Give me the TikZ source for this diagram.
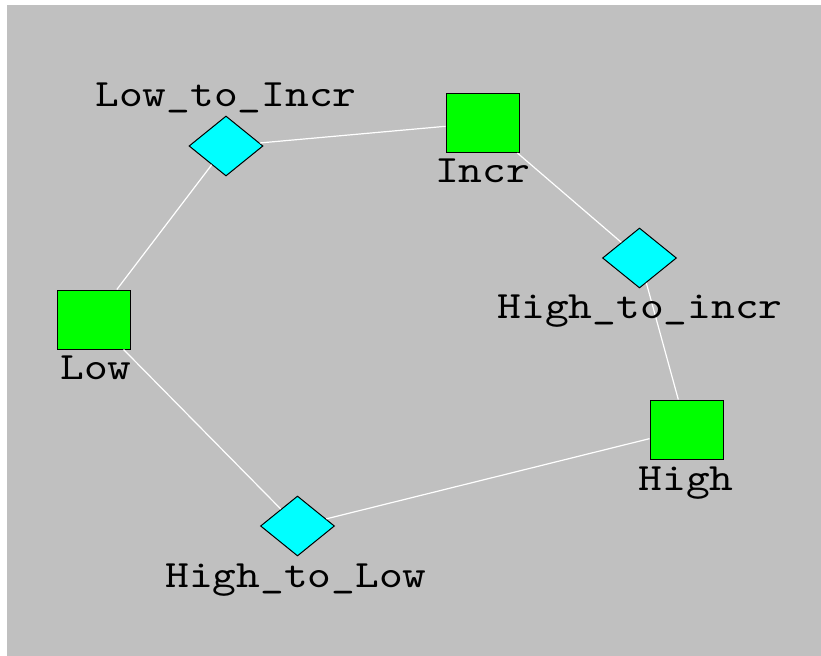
\documentclass[tikz,border=0pt]{standalone}
\usepackage{fontspec}
\newfontfamily\netfont{lmmono10-regular.otf}[FakeStretch=1.17]
\usetikzlibrary{shapes.geometric}

\tikzset{every picture/.style={line width=0.75pt}}
\tikzset{
	place/.style={draw=black, fill={rgb, 255:red, 0; green, 255; blue, 0 }, minimum width=54.75pt, minimum height=44.25pt, inner sep=0pt},
	trans/.style={diamond, draw=black, fill={rgb, 255:red, 0; green, 255; blue, 255 }, minimum width=55.5pt, minimum height=45pt, inner sep=0pt},
	lbl/.style={anchor=base, inner sep=0pt, font=\netfont\fontsize{29}{30}\selectfont},
	arc/.style={draw=white, line width=0.9pt}
}

\begin{document}
\begin{tikzpicture}[x=0.75pt,y=0.75pt,yscale=-1,xscale=1]
	\useasboundingbox (0,0) rectangle (821,656);
	%Canvas
	\fill [fill={rgb, 255:red, 192; green, 192; blue, 192 }] (7,5) rectangle (821,656);
	
	%Places
	\node (low) [place] at (94,319.5) {};
	\node (incr) [place] at (482.5,123) {};
	\node (high) [place] at (686.5,429.5) {};
	%Transitions
	\node (lowinc) [trans] at (226,146) {};
	\node (highinc) [trans] at (639.5,258) {};
	\node (highlow) [trans] at (297.5,526) {};
	
	%Arcs
	\draw [arc] (low) -- (lowinc) ;
	\draw [arc] (lowinc) -- (incr) ;
	\draw [arc] (incr) -- (highinc) ;
	\draw [arc] (highinc) -- (high) ;
	\draw [arc] (high) -- (highlow) ;
	\draw [arc] (highlow) -- (low) ;
	
	% Text Node
	\node (lowinclbl) [lbl] at (226,107) {Low\_to\_Incr};
	% Text Node
	\node (incrlbl) [lbl] at (482.5,183) {Incr};
	% Text Node
	\node (highinclbl) [lbl] at (640,318) {High\_to\_incr};
	% Text Node
	\node (highlbl) [lbl] at (686,490) {High};
	% Text Node
	\node (highlowlbl) [lbl] at (296,587) {High\_to\_Low};
	% Text Node
	\node (lowlbl) [lbl] at (96,379) {Low};
	
\end{tikzpicture}
\end{document}
